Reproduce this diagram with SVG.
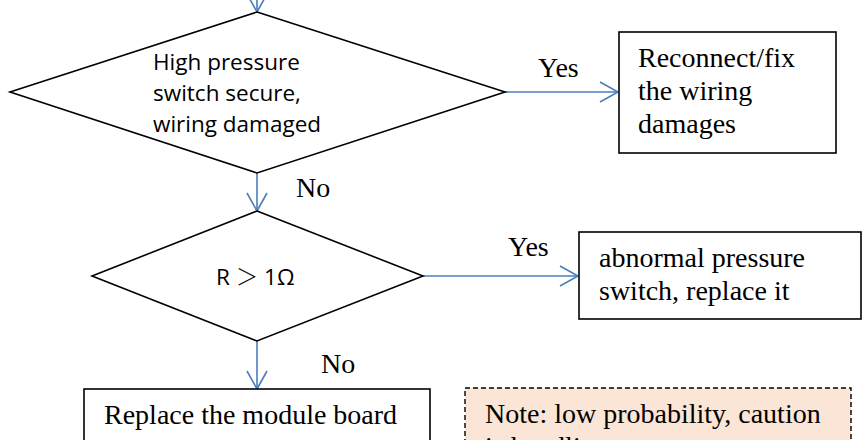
<svg xmlns="http://www.w3.org/2000/svg" width="863" height="440" viewBox="0 0 863 440">
<style>
.shape{fill:#fff;stroke:#000;stroke-width:1.6}
.note{fill:#FBE5D6;stroke:#000;stroke-width:1.4;stroke-dasharray:5 3}
.conn{stroke:#4A7EBB;stroke-width:1.6;fill:none}
.sans{font-family:"Open Sans","Noto Sans",sans-serif;font-size:22.5px;fill:#000}
.serif{font-family:"Liberation Serif","Times New Roman",serif;font-size:28px;fill:#000}
.cjk{font-family:"Noto Sans CJK SC",sans-serif;font-weight:300}
</style>
<defs>
<marker id="arr" markerUnits="userSpaceOnUse" markerWidth="24" markerHeight="24" viewBox="-20 -12 24 24" refX="0" refY="0" orient="auto" overflow="visible">
<path d="M-18,-10 L0,0 L-18,10" fill="none" stroke="#4A7EBB" stroke-width="1.6"/>
</marker>
</defs>
<rect width="863" height="440" fill="#fff"/>
<g id="connectors">
<line class="conn" x1="257" y1="-10" x2="257" y2="12" marker-end="url(#arr)"/>
<line class="conn" x1="505" y1="92" x2="618" y2="92" marker-end="url(#arr)"/>
<line class="conn" x1="257" y1="173" x2="257" y2="211" marker-end="url(#arr)"/>
<line class="conn" x1="423" y1="276" x2="578" y2="276" marker-end="url(#arr)"/>
<line class="conn" x1="257" y1="341" x2="257" y2="389" marker-end="url(#arr)"/>
<text class="serif" x="538" y="77">Yes</text>
<text class="serif" x="296" y="197">No</text>
<text class="serif" x="508" y="256">Yes</text>
<text class="serif" x="321" y="373">No</text>
</g>
<g id="decision1">
<polygon class="shape" points="257,12 505,92 257,173 10,92"/>
<text class="sans" x="153" y="70">High pressure</text>
<text class="sans" x="153" y="101">switch secure,</text>
<text class="sans" x="153" y="132">wiring damaged</text>
</g>
<g id="fixWiring">
<rect class="shape" x="619" y="32" width="217" height="121"/>
<text class="serif" x="638" y="67">Reconnect/fix</text>
<text class="serif" x="638" y="100">the wiring</text>
<text class="serif" x="638" y="133">damages</text>
</g>
<g id="decision2">
<polygon class="shape" points="257,211 423,276 257,341 92,276"/>
<text class="sans" x="216" y="285">R <tspan class="cjk">＞</tspan> 1Ω</text>
</g>
<g id="replaceSwitch">
<rect class="shape" x="579" y="232" width="282" height="87"/>
<text class="serif" x="599" y="267">abnormal pressure</text>
<text class="serif" x="599" y="300">switch, replace it</text>
</g>
<g id="replaceBoard">
<rect class="shape" x="84" y="389" width="346" height="80"/>
<text class="serif" x="104" y="424">Replace the module board</text>
</g>
<g id="note">
<rect class="note" x="465" y="388" width="386" height="90"/>
<text class="serif" x="485" y="423">Note: low probability, caution</text>
<text class="serif" x="485" y="456">is handling</text>
</g>
</svg>
